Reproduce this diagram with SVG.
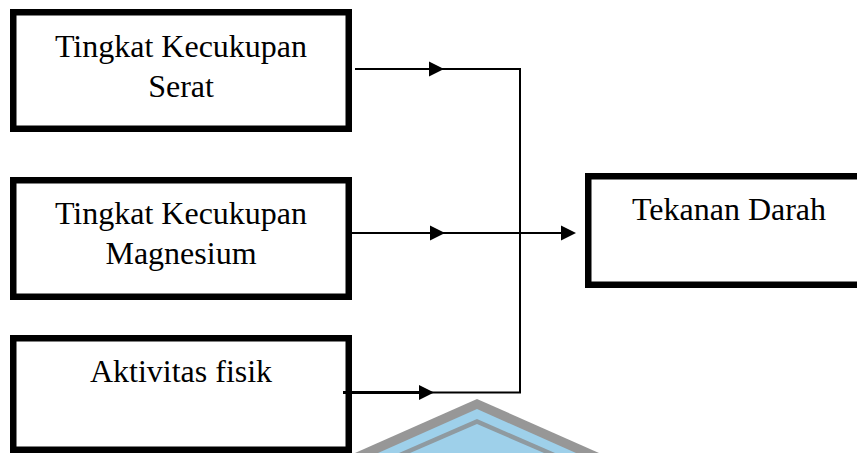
<svg xmlns="http://www.w3.org/2000/svg" xmlns:xlink="http://www.w3.org/1999/xlink" width="857" height="453" viewBox="0 0 857 453">
<style>
.box{fill:#fff;stroke:#000;stroke-width:6.5}
.lbl{font-family:"Liberation Serif","Times New Roman",serif;font-size:32px;fill:#000;text-anchor:middle}
.ln{stroke:#000;stroke-width:2;fill:none}
.ah{fill:#000}
</style>
<defs>
<path id="ah" d="M-15,-7.5 L0,0 L-15,7.5 Z"/>
</defs>
<rect width="857" height="453" fill="#fff"/>
<g id="watermark">
<polygon points="355,453 477,399 599,453" fill="#979797"/>
<polygon points="378,453 477,409 576,453" fill="#9ed0ea"/>
<polygon points="399,453 477,419 555,453" fill="#8f9aa0"/>
<polygon points="410,453 477,424 544,453" fill="#9ed0ea"/>
</g>
<g id="serat">
<rect class="box" x="13.25" y="12.25" width="335.5" height="116.5"/>
<text class="lbl" x="181" y="57">Tingkat Kecukupan</text>
<text class="lbl" x="181" y="97">Serat</text>
</g>
<g id="magnesium">
<rect class="box" x="13.25" y="180.25" width="335.5" height="116.5"/>
<text class="lbl" x="181" y="224">Tingkat Kecukupan</text>
<text class="lbl" x="181" y="264">Magnesium</text>
</g>
<g id="aktivitas">
<rect class="box" x="13.25" y="338.25" width="335.5" height="111.5"/>
<text class="lbl" x="181" y="382">Aktivitas fisik</text>
</g>
<g id="tekanan">
<rect class="box" x="588.25" y="176.25" width="275" height="108.5"/>
<text class="lbl" x="729" y="220">Tekanan Darah</text>
</g>
<g id="connectors">
<polyline class="ln" points="355,69 520,69 520,393"/>
<line class="ln" x1="352" y1="233" x2="568" y2="233"/>
<line class="ln" x1="343" y1="392.5" x2="430" y2="392.5" style="stroke-width:3"/>
<line class="ln" x1="430" y1="392.5" x2="521" y2="392.5"/>
<use href="#ah" class="ah" x="444" y="69"/>
<use href="#ah" class="ah" x="445" y="233"/>
<use href="#ah" class="ah" x="576" y="233"/>
<use href="#ah" class="ah" x="434" y="392.5"/>
</g>
</svg>
